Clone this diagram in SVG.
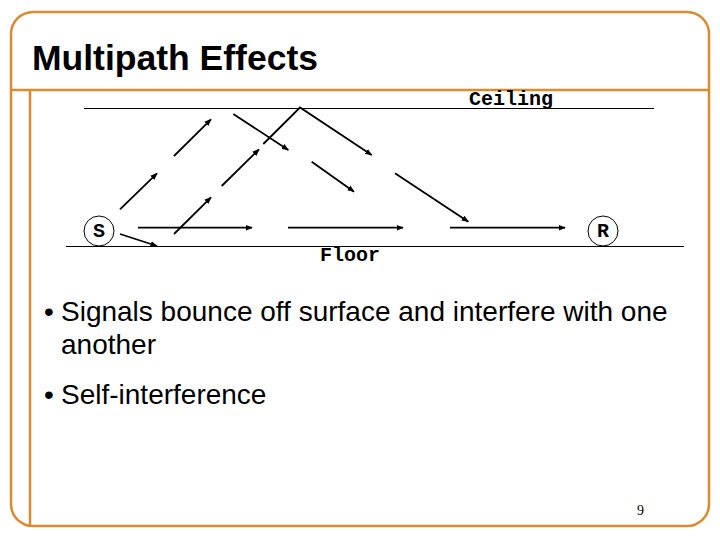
<svg xmlns="http://www.w3.org/2000/svg" width="720" height="540" viewBox="0 0 720 540">
<defs>
<marker id="ah" viewBox="0 0 10 10" refX="9" refY="5" markerWidth="4" markerHeight="4" orient="auto" markerUnits="strokeWidth">
<path d="M0,1 L10,5 L0,9 z" fill="#000"/>
</marker>
<style>
.frame{fill:none;stroke:#DB8A2F;stroke-width:2.5}
.wall{stroke:#000;stroke-width:1}
.ray{stroke:#000;stroke-width:1.8;fill:none;marker-end:url(#ah)}
.mono{font-family:"Liberation Mono","Courier New",monospace;font-size:20px;font-weight:bold;fill:#000}
.body{font-family:"Liberation Sans",Arial,sans-serif;font-size:28px;fill:#000}
</style>
</defs>
<rect width="720" height="540" fill="#fff"/>
<g id="frame">
<rect class="frame" x="11" y="12" width="698" height="514" rx="22" ry="22"/>
<line class="frame" x1="11" y1="90" x2="709" y2="90"/>
<line class="frame" x1="30" y1="90" x2="30" y2="526"/>
</g>
<text x="32" y="70" font-family="Liberation Sans,Arial,sans-serif" font-size="35.5" font-weight="bold" fill="#000">Multipath Effects</text>
<g id="ceiling">
<line class="wall" x1="84" y1="108.5" x2="654" y2="108.5"/>
<text class="mono" x="469" y="105">Ceiling</text>
</g>
<g id="floor">
<line class="wall" x1="66" y1="246.5" x2="684" y2="246.5"/>
<text class="mono" x="320" y="261">Floor</text>
</g>
<g id="S">
<circle cx="99" cy="231" r="15" fill="#fff" stroke="#000" stroke-width="1"/>
<text class="mono" x="99" y="237" text-anchor="middle">S</text>
</g>
<g id="R">
<circle cx="603" cy="231" r="15" fill="#fff" stroke="#000" stroke-width="1"/>
<text class="mono" x="603" y="237" text-anchor="middle">R</text>
</g>
<g id="connectors">
<line class="ray" x1="120" y1="234" x2="157" y2="246"/>
<line class="ray" x1="138" y1="227.7" x2="252" y2="227.7"/>
<line class="ray" x1="288" y1="227.7" x2="403" y2="227.7"/>
<line class="ray" x1="450" y1="227.7" x2="565" y2="227.7"/>
<line class="ray" x1="120" y1="209.3" x2="157" y2="173.3"/>
<line class="ray" x1="174" y1="156" x2="211" y2="119.3"/>
<line class="ray" x1="174" y1="234" x2="211" y2="197.3"/>
<line class="ray" x1="221.7" y1="186" x2="259" y2="149.3"/>
<polyline class="ray" points="263.3,144 300,107.5 371.7,155"/>
<line class="ray" x1="233.3" y1="114" x2="288.3" y2="150"/>
<line class="ray" x1="311.7" y1="161.7" x2="354" y2="191.7"/>
<line class="ray" x1="395" y1="173.3" x2="468.3" y2="221.7"/>
</g>
<g id="bullets">
<text class="body" x="44" y="321">•</text>
<text class="body" x="61" y="321">Signals bounce off surface and interfere with one</text>
<text class="body" x="61" y="354">another</text>
<text class="body" x="44" y="404">•</text>
<text class="body" x="61" y="404">Self-interference</text>
</g>
<text x="637" y="515" font-family="Liberation Serif,'Times New Roman',serif" font-size="14" fill="#000">9</text>
</svg>
